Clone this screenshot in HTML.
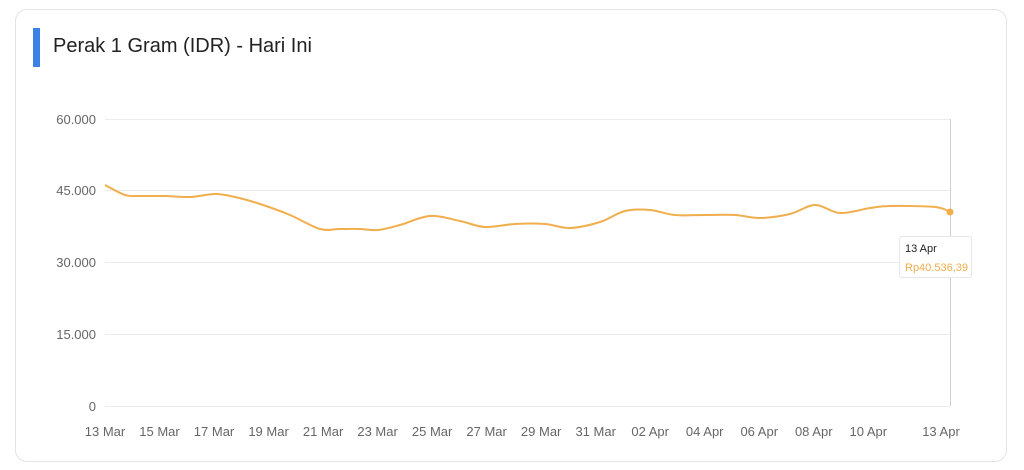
<!DOCTYPE html>
<html><head><meta charset="utf-8"><style>
body{margin:0;width:1024px;height:470px;background:#fff;font-family:"Liberation Sans",sans-serif;overflow:hidden}
.card{position:absolute;left:15px;top:9px;width:992px;height:453px;border:1px solid #e3e3e3;border-radius:12px;box-sizing:border-box}
.bar{position:absolute;left:33px;top:28px;width:7px;height:39px;background:#3b82e6}
.title{position:absolute;left:53px;top:35px;font-size:20px;color:#222}
svg{position:absolute;left:0;top:0}
.tip{position:absolute;left:899px;top:236px;width:73px;height:42px;border:1px solid #e6e6e6;border-radius:3px;background:#fff;box-sizing:border-box;font-size:11px;padding:3px 0 0 5px;line-height:19px}
</style></head><body>
<div class="card"></div><div class="bar"></div><div class="title">Perak 1 Gram (IDR) - Hari Ini</div>
<svg width="1024" height="470" font-family="Liberation Sans, sans-serif" font-size="13" fill="#666">
<g stroke="#ececec" stroke-width="1">
<line x1="105" x2="950" y1="119.5" y2="119.5"/><line x1="105" x2="950" y1="190.5" y2="190.5"/>
<line x1="105" x2="950" y1="262.5" y2="262.5"/><line x1="105" x2="950" y1="334.5" y2="334.5"/>
<line x1="105" x2="950" y1="406.5" y2="406.5"/>
</g>
<line x1="950.5" x2="950.5" y1="119" y2="406" stroke="#cfcfcf"/>
<g text-anchor="end"><text x="96" y="124">60.000</text><text x="96" y="195">45.000</text><text x="96" y="267">30.000</text><text x="96" y="339">15.000</text><text x="96" y="411">0</text></g>
<g text-anchor="middle" id="xl"></g>
<path id="ln" fill="none" stroke="#f0ae4c" stroke-width="2"/>
<circle cx="950" cy="212" r="3.5" fill="#f0ae4c"/>
</svg>
<div class="tip"><div style="color:#222">13 Apr</div><div style="color:#f0ae4c">Rp40.536,39</div></div>
<script>
var p=[[105,185],[125,195],[140,196],[165,196],[190,197],[215,194],[235,197],[260,204],[290,215],[320,229],[340,229],[360,229],[378,230],[400,225],[430,216],[460,221],[485,227],[515,224],[545,224],[570,228],[600,222],[625,211],[650,210],[675,215],[705,215],[735,215],[760,218],[790,214],[815,205],[840,213],[870,208],[890,206],[935,207],[950,212]];
var d="M"+p[0];
for(var i=0;i<p.length-1;i++){var a=p[i-1]||p[i],b=p[i],c=p[i+1],e=p[i+2]||c;
d+="C"+(b[0]+(c[0]-a[0])/6)+","+(b[1]+(c[1]-a[1])/6)+" "+(c[0]-(e[0]-b[0])/6)+","+(c[1]-(e[1]-b[1])/6)+" "+c[0]+","+c[1];}
document.getElementById("ln").setAttribute("d",d);
var L=["13 Mar","15 Mar","17 Mar","19 Mar","21 Mar","23 Mar","25 Mar","27 Mar","29 Mar","31 Mar","02 Apr","04 Apr","06 Apr","08 Apr","10 Apr"],s="";
for(var i=0;i<L.length;i++)s+='<text x="'+(105+i*2*27.26)+'" y="436">'+L[i]+'</text>';
s+='<text x="941" y="436">13 Apr</text>';
document.getElementById("xl").innerHTML=s;
</script>
</body></html>
